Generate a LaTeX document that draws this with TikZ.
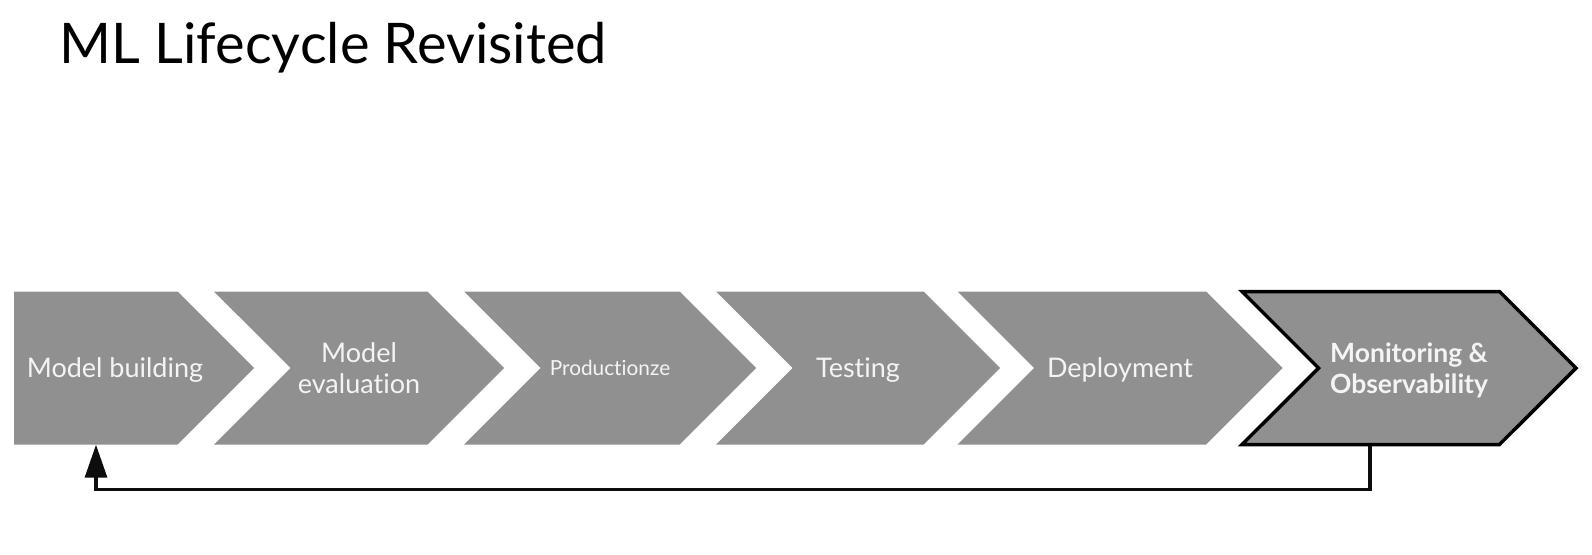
\documentclass[tikz,border=0pt]{standalone}
\usepackage{fontspec}
\setmainfont{Lato}[Ligatures=NoCommon]
\usetikzlibrary{shapes.symbols,arrows.meta}
\definecolor{stagegray}{RGB}{144,144,144}
\definecolor{labelwhite}{RGB}{244,244,244}

\begin{document}
\begin{tikzpicture}[x=1pt,y=1pt]
        \tikzset{Stage/.style={signal, signal pointer angle=90, fill=stagegray,
            draw=none, minimum height=153pt, inner sep=0pt, text=labelwhite,
            align=center, font=\fontsize{27}{31}\selectfont,
            text height=19.5pt, text depth=0pt}}
        \tikzset{TwoLines/.style={text height=50.5pt, text depth=0pt}}
        \tikzset{Feedback/.style={line width=3.2pt, draw=black!95,
            -{Triangle[width=22pt,length=33pt]}}}
        \useasboundingbox (0,0) rectangle (1592,-554);
        \node[anchor=base west, font=\fontsize{56}{68}\selectfont] (title) at (56,-63) {ML Lifecycle Revisited};
        % the stages
        \node[Stage, signal to=east, minimum width=240pt, anchor=west] (build) at (14,-368) {};
        \node[text=labelwhite, inner sep=0pt, font=\fontsize{27}{31}\selectfont,
            text height=19.5pt, text depth=0pt] (buildtext) at (115,-368) {Model building};
        \node[Stage, signal to=east, signal from=west, minimum width=290pt, TwoLines] (eval) at (359,-368) {Model\\evaluation};
        \node[Stage, signal to=east, signal from=west, minimum width=292pt,
            font=\fontsize{20.8}{24}\selectfont, text height=15pt] (prod) at (610,-368) {Productionze};
        \node[Stage, signal to=east, signal from=west, minimum width=284pt] (test) at (858,-368) {Testing};
        \node[Stage, signal to=east, signal from=west, minimum width=325pt] (deploy) at (1120,-368) {Deployment};
        \node[Stage, signal to=east, signal from=west, minimum width=334pt, TwoLines,
            draw=black, line width=3.5pt, font=\fontsize{26.5}{31}\selectfont\bfseries] (monit) at (1409,-368) {Monitoring \&\\Observability};
        % loop back
        \draw[Feedback] (monit.south -| 1370,0) -- ++(0,-43) -| (build.south -| 96,0);
\end{tikzpicture}
\end{document}
